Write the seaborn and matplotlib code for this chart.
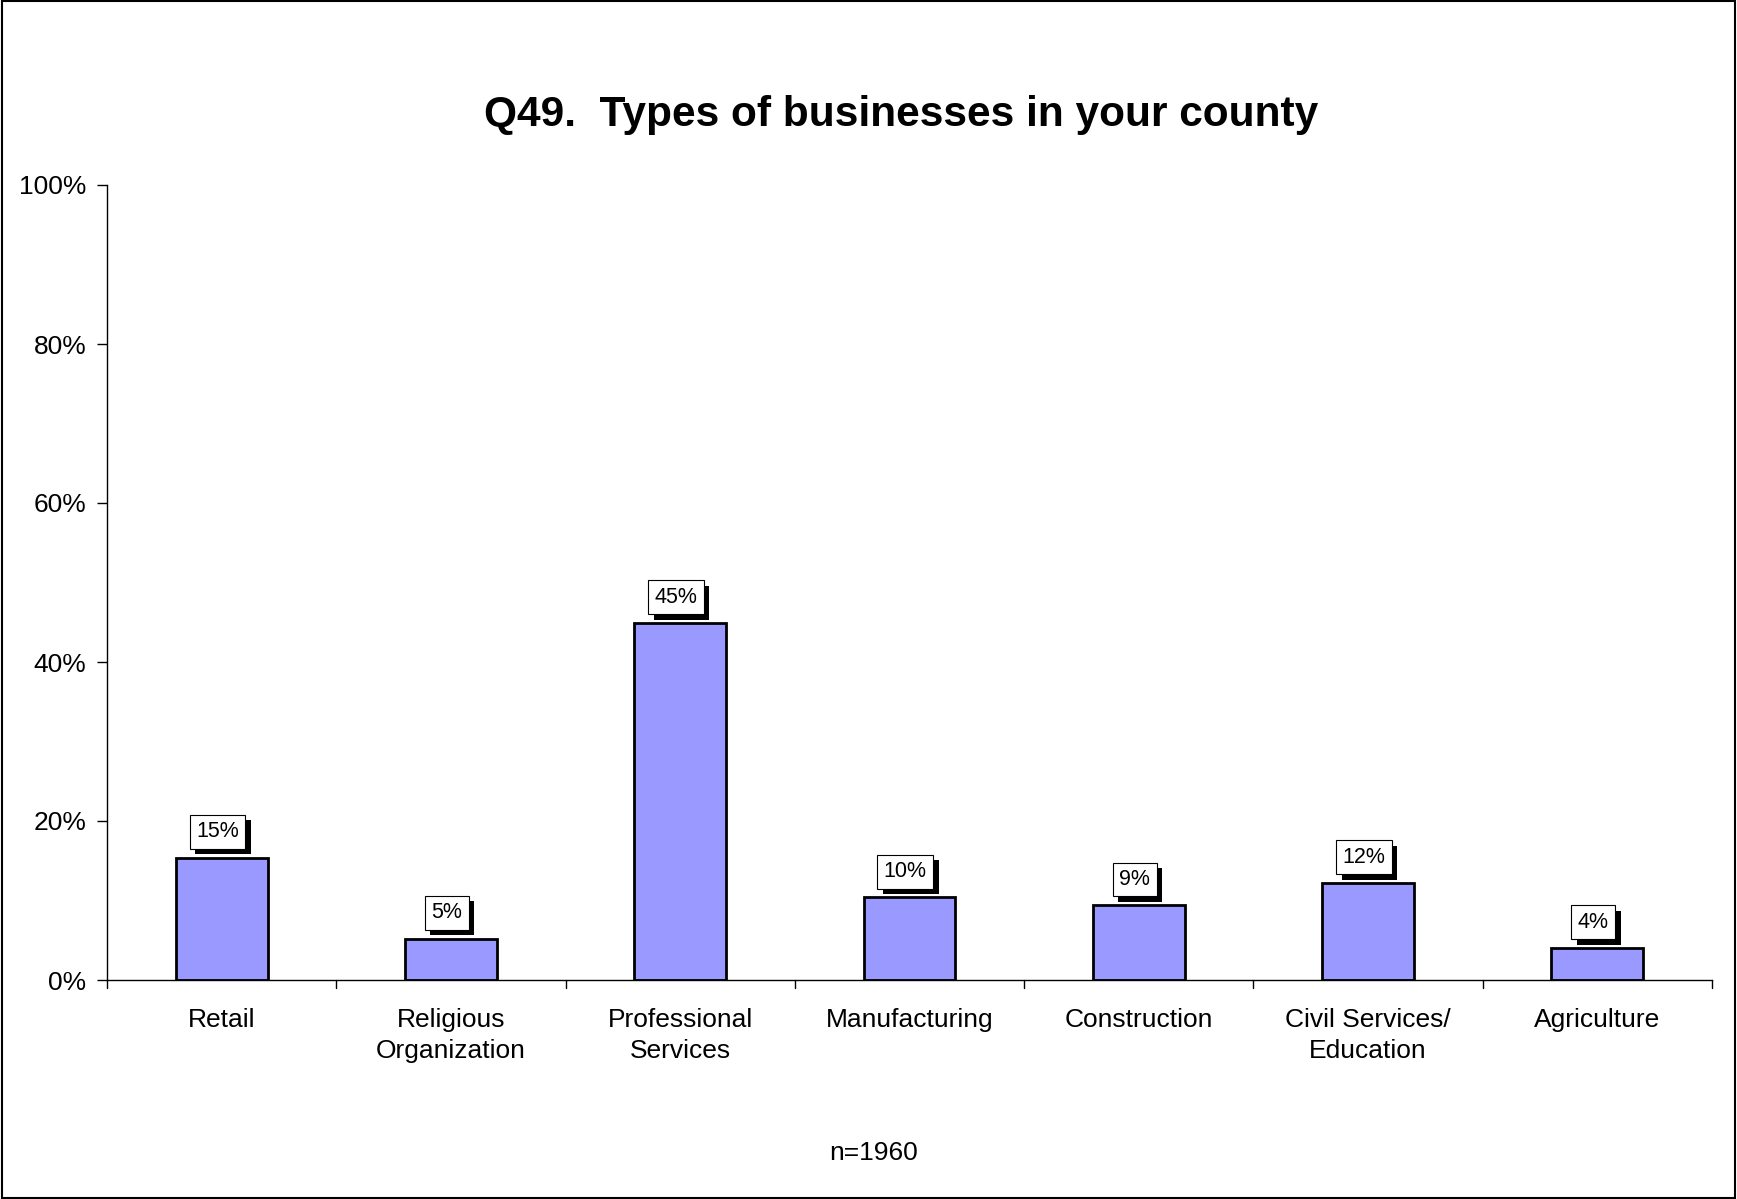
import matplotlib
matplotlib.use("Agg")
import matplotlib.pyplot as plt
import matplotlib.patheffects as pe
import seaborn as sns
import pandas as pd
from matplotlib.patches import Rectangle

categories = ["Retail", "Religious\nOrganization", "Professional\nServices", "Manufacturing",
              "Construction", "Civil Services/\nEducation", "Agriculture"]
values = [15.4, 5.2, 44.9, 10.4, 9.4, 12.2, 4.0]
yticks = [0, 20, 40, 60, 80, 100]

sns.set_style("white")
plt.rcParams["font.family"] = ["Liberation Sans", "DejaVu Sans"]
plt.rcParams["text.color"] = "black"
plt.rcParams["xtick.color"] = "black"
plt.rcParams["ytick.color"] = "black"

df = pd.DataFrame({"cat": categories, "val": values})

fig = plt.figure(figsize=(17.37, 11.99), dpi=100)
ax = fig.add_axes([107 / 1737, 1 - 980 / 1199, (1712 - 107) / 1737, (980 - 185) / 1199])

sns.barplot(data=df, x="cat", y="val", color="#9999ff", width=0.4,
            edgecolor="black", linewidth=2, saturation=1, ax=ax)

ax.set_ylim(0, 100)
ax.set_xlim(-0.5, len(categories) - 0.5)
ax.set_yticks(yticks)
ax.set_yticklabels([f"{t}%" for t in yticks], fontsize=19)
ax.set_xticks(range(len(categories)))
ax.set_xticklabels(categories, fontsize=19, linespacing=1.4)
ax.tick_params(axis="x", length=0, pad=20)
ax.tick_params(axis="y", left=True, length=7, width=1, direction="out", pad=8)
# category separator ticks on x axis
for b in [i - 0.5 for i in range(len(categories) + 1)]:
    ax.plot([b, b], [0, -1.0], color="black", lw=1, clip_on=False)
ax.set_xlabel("")
ax.set_ylabel("")
sns.despine(ax=ax, top=True, right=True)
for s in ["left", "bottom"]:
    ax.spines[s].set_linewidth(1)
    ax.spines[s].set_color("black")

for i, v in enumerate(values):
    t = ax.annotate(f"{v:.0f}%", (i, v), xytext=(-3, 11), textcoords="offset points",
                    ha="center", va="bottom", fontsize=15.5, color="black",
                    bbox=dict(boxstyle="square,pad=0.3", fc="white", ec="black", lw=0.8))
    t.get_bbox_patch().set_path_effects([
        pe.SimplePatchShadow(offset=(4, -4), shadow_rgbFace="black", alpha=1),
        pe.Normal()])

fig.text(0.519, 1 - 115 / 1199, "Q49.  Types of businesses in your county",
         ha="center", va="center", fontsize=30.5, fontweight="bold")
fig.text(874 / 1737, 1 - 1153 / 1199, "n=1960", ha="center", va="center", fontsize=19)

fig.patches.append(Rectangle((0.001, 0.001), 0.998, 0.998, transform=fig.transFigure,
                             fill=False, ec="black", lw=1.5))

fig.savefig("out.png", dpi=100)
